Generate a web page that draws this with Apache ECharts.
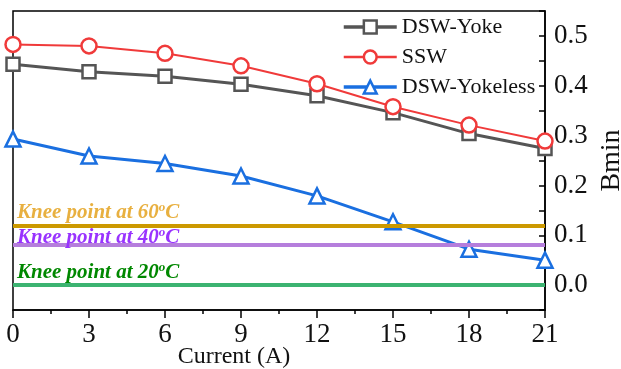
<!DOCTYPE html>
<html>
<head>
<meta charset="utf-8">
<script src="https://cdn.jsdelivr.net/npm/echarts@6/dist/echarts.min.js"></script>
<style>html,body{margin:0;padding:0;background:#fff}#c{width:621px;height:369px}</style>
</head>
<body>
<div id="c"></div>
<script>
const currents = [0, 3, 6, 9, 12, 15, 18, 21];
const dswYoke = [0.443, 0.428, 0.419, 0.403, 0.380, 0.346, 0.304, 0.274];
const ssw = [0.483, 0.480, 0.465, 0.440, 0.404, 0.358, 0.321, 0.289];
const dswYokeless = [0.293, 0.259, 0.244, 0.219, 0.179, 0.127, 0.072, 0.050];
const kneeValues = [0.12, 0.08, 0.0];
const kneeTemps = ['60', '40', '20'];
const seriesNames = ['DSW-Yoke', 'SSW', 'DSW-Yokeless'];

const font = 'Liberation Serif, Times New Roman, serif';
const pair = (ys) => currents.map((x, i) => [x, ys[i]]);
const kneeLine = ['#CC9900', '#B57EDC', '#3CB371'];
const kneeText = ['#E8B040', '#9933FF', '#008800'];
const kneeDist = [2, -3, 2];
const colors = ['#555555', '#F03A3A', '#1A6FE0'];
const widths = [3, 2, 3];
const symbols = ['rect', 'circle', 'triangle'];
const sizes = [13, 15, 15];

const chart = echarts.init(document.getElementById('c'));
const lineSeries = seriesNames.map((n, i) => ({
  type: 'line', name: n, data: pair([dswYoke, ssw, dswYokeless][i]), symbol: symbols[i], symbolSize: sizes[i],
  showAllSymbol: true, z: 3,
  lineStyle: {color: colors[i], width: widths[i]},
  itemStyle: {color: '#fff', borderColor: colors[i], borderWidth: 2.5},
  emphasis: {disabled: true}
}));
const kneeSeries = kneeValues.map((v, i) => ({
  type: 'line', data: [], z: 5, silent: true,
  markLine: {
    symbol: 'none', silent: true, animation: false,
    lineStyle: {color: kneeLine[i], width: 4, type: 'solid'},
    label: {
      position: 'insideStartTop', distance: [4, kneeDist[i]],
      formatter: 'Knee point at ' + kneeTemps[i] + '{s|o}C',
      color: kneeText[i], fontFamily: font, fontWeight: 'bold', fontStyle: 'italic', fontSize: 21,
      rich: {s: {fontSize: 13, fontFamily: font, fontWeight: 'bold', fontStyle: 'italic', color: kneeText[i], verticalAlign: 'top', padding: [0, 0, 9, 0]}}
    },
    data: [{yAxis: v}]
  }
}));

chart.setOption({
  animation: false,
  backgroundColor: '#fff',
  grid: {left: 13, right: 76, top: 11, bottom: 59, show: true, borderColor: '#000', borderWidth: 1.5, containLabel: false, outerBoundsMode: 'none'},
  legend: {
    data: seriesNames.map((n, i) => ({name: n, lineStyle: {width: widths[i] + 0.5, color: colors[i]}, itemStyle: {borderWidth: 2.5}})),
    orient: 'vertical', left: 337, top: 11, itemWidth: 53, itemHeight: 16, itemGap: 8,
    textStyle: {fontFamily: font, fontSize: 22, color: '#111'}, z: 10
  },
  xAxis: {
    type: 'value', min: 0, max: 21, interval: 3,
    name: 'Current (A)', nameLocation: 'middle', nameGap: 35, nameMoveOverlap: false,
    nameTextStyle: {fontFamily: font, fontSize: 24, color: '#111', padding: [0, 90, 0, 0]},
    axisLine: {onZero: false, lineStyle: {color: '#000', width: 1.5}},
    axisTick: {inside: false, length: 8, lineStyle: {color: '#000', width: 1.5}},
    minorTick: {show: true, splitNumber: 2, length: 4, lineStyle: {color: '#000', width: 1.5}},
    axisLabel: {fontFamily: font, fontSize: 27, color: '#111', margin: 11},
    splitLine: {show: false}
  },
  yAxis: {
    type: 'value', position: 'right', min: -0.05, max: 0.55, interval: 0.05,
    name: 'Bmin', nameLocation: 'middle', nameRotate: 90, nameGap: 53, nameMoveOverlap: false,
    nameTextStyle: {fontFamily: font, fontSize: 28, color: '#111'},
    axisLine: {show: true, onZero: false, lineStyle: {color: '#000', width: 1.5}},
    axisTick: {inside: true, length: 6, lineStyle: {color: '#000', width: 1.5}},
    axisLabel: {
      fontFamily: font, fontSize: 27, color: '#111', margin: 9,
      formatter: v => (Math.abs(Math.round(v * 10) - v * 10) < 1e-6 && v > -0.01 && v < 0.54) ? (Math.round(v * 10) / 10).toFixed(1) : ''
    },
    splitLine: {show: false}
  },
  series: lineSeries.concat(kneeSeries)
});
</script>
</body>
</html>
